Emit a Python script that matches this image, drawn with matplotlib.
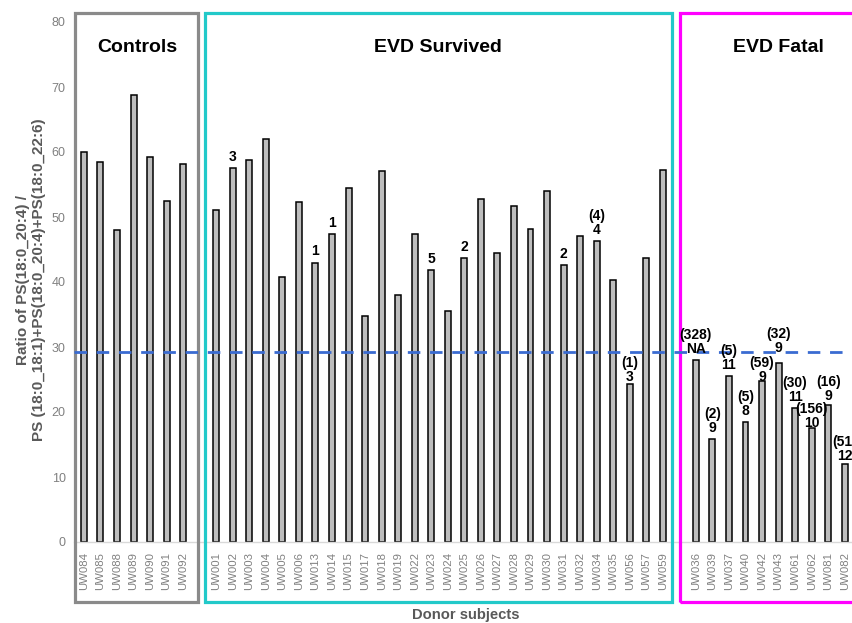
import matplotlib
matplotlib.use("Agg")
import matplotlib.pyplot as plt
from matplotlib.patches import Rectangle

plt.rcParams["font.family"] = ["Liberation Sans", "DejaVu Sans"]

# ---- data -------------------------------------------------------------
control_ids = ["UW084", "UW085", "UW088", "UW089", "UW090", "UW091", "UW092"]
control_vals = [60.0, 58.4, 48.0, 68.8, 59.3, 52.5, 58.1]

survived_ids = ["UW001", "UW002", "UW003", "UW004", "UW005", "UW006", "UW013",
                "UW014", "UW015", "UW017", "UW018", "UW019", "UW022", "UW023",
                "UW024", "UW025", "UW026", "UW027", "UW028", "UW029", "UW030",
                "UW031", "UW032", "UW034", "UW035", "UW056", "UW057", "UW059"]
survived_vals = [51.1, 57.5, 58.7, 62.0, 40.8, 52.3, 43.0,
                 47.4, 54.4, 34.8, 57.1, 38.0, 47.4, 41.8,
                 35.6, 43.7, 52.7, 44.5, 51.7, 48.2, 54.0,
                 42.6, 47.1, 46.3, 40.3, 24.3, 43.7, 57.3]
survived_notes = ["", "3", "", "", "", "", "1",
                  "1", "", "", "", "", "", "5",
                  "", "2", "", "", "", "", "",
                  "2", "", "(4)\n4", "", "(1)\n3", "", ""]

fatal_ids = ["UW036", "UW039", "UW037", "UW040", "UW042", "UW043", "UW061",
             "UW062", "UW081", "UW082"]
fatal_vals = [28.0, 15.8, 25.5, 18.4, 24.8, 27.5, 20.6, 17.5, 21.1, 12.0]
fatal_notes = ["(328)\nNA", "(2)\n9", "(5)\n11", "(5)\n8", "(59)\n9", "(32)\n9",
               "(30)\n11", "(156)\n10", "(16)\n9", "(51)\n12"]

threshold = 29.3
group_titles = ["Controls", "EVD Survived", "EVD Fatal"]
y_ticks = [0, 10, 20, 30, 40, 50, 60, 70, 80]

# ---- styling ----------------------------------------------------------
group_colors = ["#8a8a8a", "#22c9c9", "#ff00ff"]
box_edges = [(-0.54, 6.89), (7.32, 35.55), (36.03, 47.6)]
title_x = [3.2, 21.4, 42.0]
# extra vertical nudge (points) for crowded value labels
note_nudge = {"UW056": -3, "UW042": -5, "UW043": 3, "UW062": -4.5,
              "UW081": -1.5, "UW082": -2.5}

groups = [
    (control_ids, control_vals, [""] * len(control_ids)),
    (survived_ids, survived_vals, survived_notes),
    (fatal_ids, fatal_vals, fatal_notes),
]

fig = plt.figure(figsize=(8.53, 6.23), dpi=100)
ax = fig.add_axes([74.0 / 853, 81.0 / 623, (853 - 74.0) / 853, (542 - 22.0) / 623])

# one empty slot between consecutive groups
positions, labels, values, notes = [], [], [], []
pos = 0
for ids, vals, nts in groups:
    for i, v, n in zip(ids, vals, nts):
        positions.append(pos)
        labels.append(i)
        values.append(v)
        notes.append(n)
        pos += 1
    pos += 1

ax.bar(positions, values, width=0.36, color="#bdbdbd", edgecolor="black",
       linewidth=1.1, zorder=2)

for x, lab, v, n in zip(positions, labels, values, notes):
    if n:
        ax.annotate(n, (x, v), xytext=(0, 3 + note_nudge.get(lab, 0)),
                    textcoords="offset points", ha="center", va="bottom",
                    fontsize=10, fontweight="bold", linespacing=1.0, zorder=5)

ax.axhline(threshold, color="#3a6bd1", linewidth=2.0, dashes=(4.5, 3.5),
           zorder=4)

ax.set_xlim(-0.6, 46.5)
ax.set_ylim(0, 80)
ax.set_yticks(y_ticks)
ax.set_xticks(positions)
ax.set_xticklabels(labels, rotation=90, fontsize=8.2, color="#808080")
ax.tick_params(axis="x", length=0, pad=7)
ax.tick_params(axis="y", length=0, pad=6, labelsize=9, labelcolor="#808080")

for side in ("top", "right", "left"):
    ax.spines[side].set_visible(False)
ax.spines["bottom"].set_color("#d9d9d9")
ax.spines["bottom"].set_linewidth(1.0)

# group frames and titles
for (x0, x1), col, title, tx in zip(box_edges, group_colors, group_titles,
                                    title_x):
    ax.add_patch(Rectangle((x0, -9.2), x1 - x0, 81.4 + 9.2, fill=False,
                           edgecolor=col, linewidth=2.3, clip_on=False,
                           zorder=3))
    ax.text(tx, 76.0, title, ha="center", va="center", fontsize=14,
            fontweight="bold")

fig.text(466 / 853, 1 - 615 / 623, "Donor subjects", ha="center",
         va="center", fontsize=10.6, fontweight="bold", color="#595959")
fig.text(31 / 853, 1 - 280 / 623,
         "Ratio of PS(18:0_20:4) /\nPS (18:0_18:1)+PS(18:0_20:4)+PS(18:0_22:6)",
         ha="center", va="center", rotation=90, fontsize=11,
         fontweight="bold", color="#595959", linespacing=1.1)

fig.savefig("out.png", dpi=100)
